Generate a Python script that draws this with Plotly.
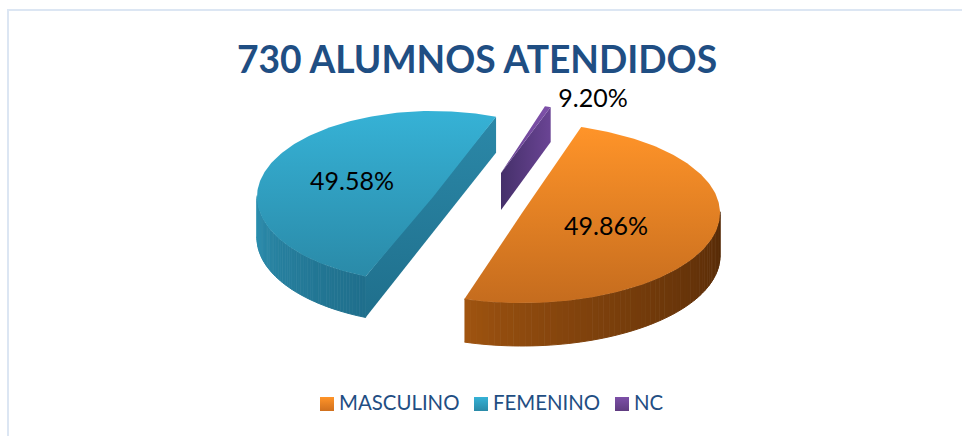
import numpy as np
import plotly.graph_objects as go

categories = ["MASCULINO", "FEMENINO", "NC"]
shares = [49.86, 49.58, 0.56]
slice_labels = ["49.86%", "49.58%", "9.20%"]
title_text = "730 ALUMNOS ATENDIDOS"

W, H = 962, 436
TEXT_BLUE = "#1f4e83"
TEXT_FONT = "Lato"

# centre, radii, start angle, wall depth, top gradient, wall colours
geometry = {
    "MASCULINO": dict(c=(522, 213), r=(198, 90), start=72.6, depth=43, top=("#ff9429", "#c56c1e"),
                      wall_light="#a05410", wall_dark="#552a07"),
    "FEMENINO": dict(c=(433, 197), r=(176, 86), start=-112.5, depth=41, top=("#36b2d6", "#2a8aa8"),
                     wall_light="#2f93b4", wall_dark="#1f6f8c"),
    "NC": dict(c=(501, 173), r=(170, 69), start=73.0, depth=37, top=("#7d50a8", "#6a4494"),
               wall_light="#6a4494", wall_dark="#45306a"),
}


def rim(g, t0, t1, n=90):
    t = np.radians(np.linspace(t0, t1, n))
    return g["c"][0] + g["r"][0] * np.cos(t), g["c"][1] - g["r"][1] * np.sin(t)


def mix(a, b, f):
    pa = [int(a[i:i + 2], 16) for i in (1, 3, 5)]
    pb = [int(b[i:i + 2], 16) for i in (1, 3, 5)]
    return "#%02x%02x%02x" % tuple(round(x + (y - x) * f) for x, y in zip(pa, pb))


def poly(fig, xs, ys, color=None, top_bottom=None, left_right=None):
    kw = dict(x=list(xs), y=list(ys), mode="lines", fill="toself", line=dict(width=0),
              hoverinfo="skip", showlegend=False)
    if top_bottom:
        # the y axis runs downwards, so the scale starts at the visual bottom
        kw["fillgradient"] = dict(type="vertical", colorscale=[[0, top_bottom[1]], [1, top_bottom[0]]])
    elif left_right:
        kw["fillgradient"] = dict(type="horizontal", colorscale=[[0, left_right[0]], [1, left_right[1]]])
    else:
        kw["fillcolor"] = color
        kw["line"] = dict(width=1, color=color)
    fig.add_trace(go.Scatter(**kw))


fig = go.Figure()

# Each slice's sweep is its share of the whole circle
total = sum(shares)
for name, share in zip(categories, shares):
    g = geometry[name]
    sweep = share / total * 360
    d = g["depth"]
    cx, cy = g["c"]
    t0 = g["start"]
    t1 = t0 + sweep if name == "NC" else t0 - sweep

    if name != "NC":
        visible = [a for a in np.linspace(t0, t1, 241) if np.sin(np.radians(a)) <= 0.02]
        edges = np.linspace(min(visible), max(visible), 61)
        for i in range(60):
            x, y = rim(g, edges[i], edges[i + 1], 4)
            poly(fig, np.r_[x, x[::-1]], np.r_[y, y[::-1] + d],
                 mix(g["wall_light"], g["wall_dark"], (i / 59) ** 0.75))

    if name == "FEMENINO":
        xa, ya = rim(g, t0, t0, 1)
        xb, yb = rim(g, t1, t1, 1)
        poly(fig, [xb[0], xa[0], xa[0], xb[0]], [yb[0], ya[0], ya[0] + d, yb[0] + d - 5],
             top_bottom=("#2b88a8", "#1f6f8c"))
    if name == "NC":
        xa, ya = rim(g, t0, t0, 1)
        poly(fig, [cx, xa[0], xa[0], cx], [cy, ya[0], ya[0] + d - 2, cy + d],
             left_right=(g["wall_dark"], g["wall_light"]))

    x, y = rim(g, t0, t1, 180)
    poly(fig, np.r_[cx, x, cx], np.r_[cy, y, cy], top_bottom=g["top"])

# Slice value labels
label_pos = {"MASCULINO": (606, 229), "FEMENINO": (352, 184), "NC": (593, 101)}
for name, lab in zip(categories, slice_labels):
    fig.add_trace(go.Scatter(x=[label_pos[name][0]], y=[label_pos[name][1]], mode="text", text=[lab],
                             textposition="middle center", hoverinfo="skip", showlegend=False,
                             textfont=dict(family=TEXT_FONT, size=25, color="#000000")))

# Legend row
legend_x = {"MASCULINO": 327, "FEMENINO": 481, "NC": 622}
legend_col = {"MASCULINO": ("#ff9429", "#d0701e"), "FEMENINO": ("#36b2d6", "#2a8aa8"), "NC": ("#7d50a8", "#5f3c80")}
for name in categories:
    c = legend_col[name]
    fig.add_trace(go.Scatter(x=[legend_x[name]], y=[404], mode="markers", name=name,
                             showlegend=False, hoverinfo="skip",
                             marker=dict(symbol="square", size=14, color=c[0], line=dict(width=0),
                                         gradient=dict(type="vertical", color=c[1]))))
    fig.add_trace(go.Scatter(x=[legend_x[name] + 12], y=[405], mode="text", text=[name],
                             textposition="middle right", showlegend=False, hoverinfo="skip",
                             textfont=dict(family=TEXT_FONT, size=20.4, color=TEXT_BLUE)))

fig.update_layout(
    width=W, height=H, autosize=False,
    margin=dict(l=0, r=0, t=0, b=0),
    paper_bgcolor="white", plot_bgcolor="white",
    title=dict(text=f"<b>{title_text}</b>", x=477 / W, xanchor="center", y=1 - 60 / H, yanchor="middle",
               font=dict(family=TEXT_FONT, size=37.2, color=TEXT_BLUE)),
    xaxis=dict(visible=False, range=[0, W], fixedrange=True),
    yaxis=dict(visible=False, range=[H, 0], fixedrange=True),
    shapes=[dict(type="rect", x0=8, y0=10, x1=W + 5, y1=H + 5, line=dict(color="#dce6f3", width=2),
                 fillcolor="rgba(0,0,0,0)")],
)
fig.write_html("out.html", config={"displayModeBar": False},
               post_script="document.body.style.margin='0';document.documentElement.style.overflow='hidden';")
